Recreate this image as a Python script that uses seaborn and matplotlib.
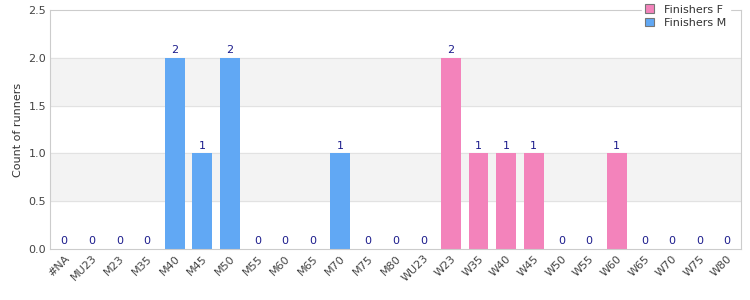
import pandas as pd
import matplotlib
matplotlib.use("Agg")
import matplotlib.pyplot as plt
import seaborn as sns

categories = ["#NA", "MU23", "M23", "M35", "M40", "M45", "M50", "M55", "M60", "M65",
              "M70", "M75", "M80", "WU23", "W23", "W35", "W40", "W45", "W50", "W55",
              "W60", "W65", "W70", "W75", "W80"]
counts = [0, 0, 0, 0, 2, 1, 2, 0, 0, 0,
          1, 0, 0, 0, 2, 1, 1, 1, 0, 0,
          1, 0, 0, 0, 0]
groups = ["Finishers M"] * 13 + ["Finishers F"] * 12

df = pd.DataFrame({"category": categories, "count": counts, "group": groups})

sns.set_style("white")
plt.rcParams['font.family'] = ['DejaVu Sans']

fig = plt.figure(figsize=(7.5, 3), dpi=100)
ax = fig.add_axes([0.067, 0.17, 0.921, 0.797])

palette = {"Finishers F": "#f383bb", "Finishers M": "#61a8f4"}
sns.barplot(data=df, x="category", y="count", hue="group", order=categories,
            hue_order=["Finishers F", "Finishers M"], palette=palette,
            dodge=False, width=0.72, saturation=1, linewidth=0, ax=ax, legend=True)

# alternating background bands
for lo in [0.5, 1.5]:
    ax.axhspan(lo, lo + 0.5, color="#f3f3f3", zorder=0)
for y in [0.5, 1.0, 1.5, 2.0]:
    ax.axhline(y, color="#e2e2e2", lw=0.8, zorder=0.5)

for c in ax.containers:
    ax.bar_label(c, fmt="%d", padding=2, color="#1c1c8c", fontsize=8)

ax.set_ylim(0, 2.5)
ax.set_xlim(-0.5, len(categories) - 0.5)
ax.set_yticks([0, 0.5, 1.0, 1.5, 2.0, 2.5])
ax.set_yticklabels(["0.0", "0.5", "1.0", "1.5", "2.0", "2.5"])
ax.tick_params(axis="both", length=0, labelsize=8, colors="#444444", pad=3)
plt.setp(ax.get_xticklabels(), rotation=45, ha="right", rotation_mode="anchor")
ax.set_xlabel("")
ax.set_ylabel("Count of runners", fontsize=8, color="#333333")

for s in ax.spines.values():
    s.set_color("#cccccc")
    s.set_linewidth(0.8)

leg = ax.legend(loc="upper right", bbox_to_anchor=(0.992, 1.06), frameon=True,
                fontsize=8, handlelength=0.8, handleheight=0.8, borderpad=0.3,
                labelspacing=0.3, handletextpad=0.9)
leg.get_frame().set_facecolor("white")
leg.get_frame().set_edgecolor("white")
leg.get_frame().set_alpha(1)
for h in leg.legend_handles:
    h.set_edgecolor("#777777")
    h.set_linewidth(0.8)
for t in leg.get_texts():
    t.set_color("#333333")

fig.savefig("out.png", dpi=100)
